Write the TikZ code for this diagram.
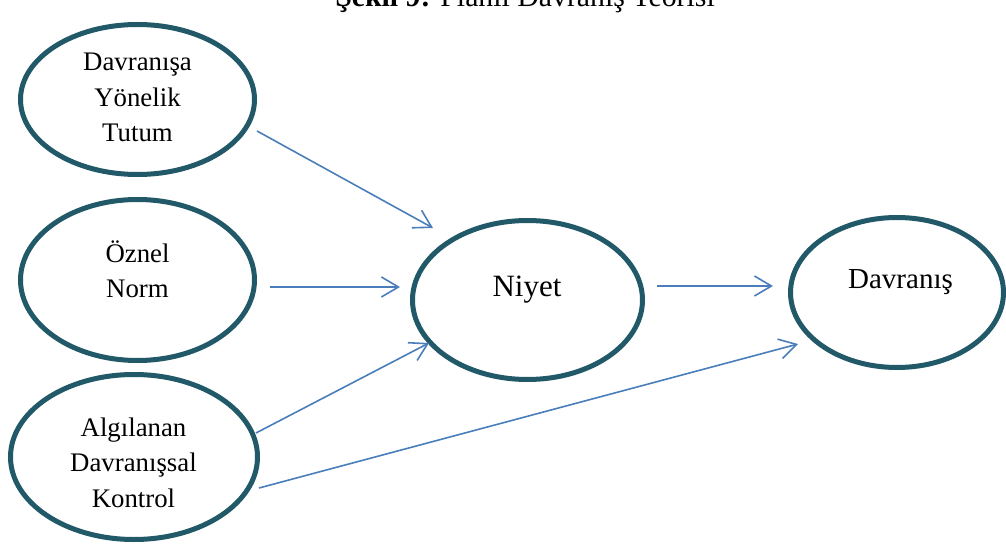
\documentclass[tikz,border=0pt]{standalone}
\usepackage{fontspec}
\setmainfont{Liberation Serif}
\usetikzlibrary{shapes.geometric,arrows.meta}

\definecolor{rimteal}{RGB}{33,89,104}
\definecolor{linkblue}{RGB}{74,126,187}

\tikzset{
  bubble/.style={ellipse, draw=rimteal, line width=5pt, fill=white, inner sep=0pt},
  % multi-line captions: the base anchor sits on the last line's baseline
  caption/.style={anchor=base, align=center, inner sep=0pt,
    font=\fontsize{26.8}{35.5}\selectfont},
  bigcaption/.style={anchor=base, inner sep=0pt, font=\fontsize{31}{36}\selectfont},
  link/.style={draw=linkblue, line width=1.6pt,
    -{Straight Barb[length=17pt,width=20pt,line width=1.6pt]}}
}

\begin{document}
\begin{tikzpicture}[x=1pt,y=-1pt]
  \useasboundingbox (0,0) rectangle (1006,545);

  % title, partly above the top edge
  \node[anchor=base, inner sep=0pt, font=\fontsize{29.8}{34}\selectfont] (title) at (525,7)
    {\textbf{Şekil 9:} Planlı Davranış Teorisi};

  % the five constructs
  \node[bubble, minimum width=234pt, minimum height=150pt] (tutum)    at (137.5,99.5) {};
  \node[bubble, minimum width=234pt, minimum height=161pt] (norm)     at (137.5,280) {};
  \node[bubble, minimum width=247pt, minimum height=165pt] (kontrol)  at (134,457) {};
  \node[bubble, minimum width=230pt, minimum height=159pt] (niyet)    at (527.5,300) {};
  \node[bubble, minimum width=213pt, minimum height=150pt] (davranis) at (897,292.5) {};

  \node[caption] (tutumtxt)   at (137.5,142) {Davranışa\\Yönelik\\Tutum};
  \node[caption] (normtxt)    at (137.5,298) {Öznel\\Norm};
  \node[caption] (kontroltxt) at (133.5,507) {Algılanan\\Davranışsal\\Kontrol};
  \node[bigcaption] (niyettxt) at (527,296) {Niyet};
  \node[caption, font=\fontsize{29}{34}\selectfont] (davranistxt) at (900.5,288) {Davranış};

  % free ends of the connectors
  \coordinate (tutumout)   at (257,131);
  \coordinate (normout)    at (270,287);
  \coordinate (kontrolout) at (256,433);
  \coordinate (kontrollow) at (259,488);
  \coordinate (niyetout)   at (657,286);
  \coordinate (niyetinA)   at (433,228);
  \coordinate (niyetinB)   at (400,287);
  \coordinate (niyetinC)   at (429,343);
  \coordinate (davinA)     at (773,286);
  \coordinate (davinB)     at (798,344);

  \draw[link] (tutumout)   -- (niyetinA);
  \draw[link] (normout)    -- (niyetinB);
  \draw[link] (kontrolout) -- (niyetinC);
  \draw[link] (kontrollow) -- (davinB);
  \draw[link] (niyetout)   -- (davinA);
\end{tikzpicture}
\end{document}
